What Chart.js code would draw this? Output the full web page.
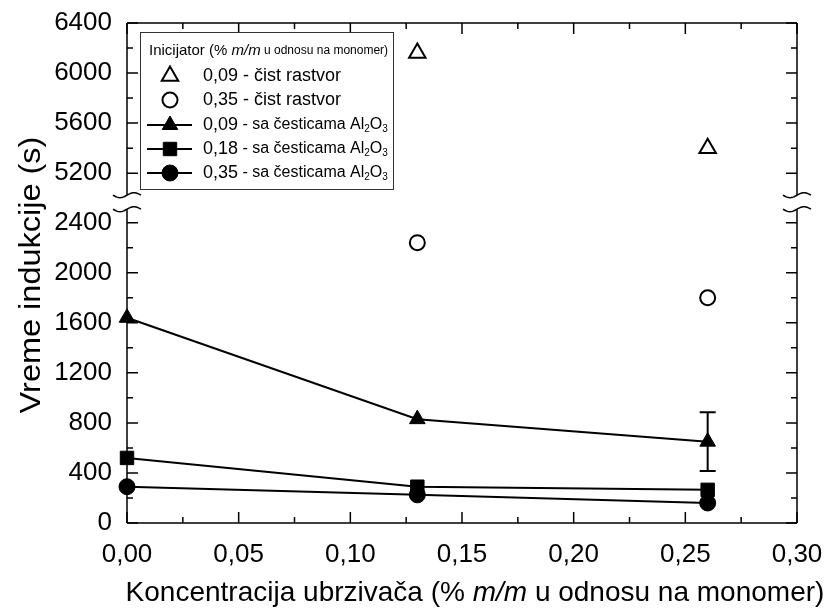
<!DOCTYPE html>
<html>
<head>
<meta charset="utf-8">
<script src="https://cdn.jsdelivr.net/npm/chart.js@4/dist/chart.umd.min.js"></script>
<style>
  html, body { margin: 0; padding: 0; background: #fff; }
  #wrap { width: 829px; height: 611px; }
</style>
</head>
<body>
<div id="wrap"><canvas id="chart" width="829" height="611"></canvas></div>
<script>
// data
const xValues = [0, 0.13, 0.26];
const triOpen = [null, 6160, 5400];      // 0,09 - čist rastvor
const circOpen = [null, 2240, 1800];     // 0,35 - čist rastvor
const triFilled = [1640, 830, 650];      // 0,09 - sa česticama Al2O3
const triFilledErr = [0, 0, 235];
const sqFilled = [520, 290, 265];        // 0,18 - sa česticama Al2O3
const circFilled = [290, 225, 160];      // 0,35 - sa česticama Al2O3

const xTicks = [0, 0.05, 0.1, 0.15, 0.2, 0.25, 0.3];
const yTicksTop = [5200, 5600, 6000, 6400];
const yTicksBottom = [0, 400, 800, 1200, 1600, 2000, 2400];

const FONT = "'Liberation Sans', Arial, sans-serif";

function pts(arr) {
  return xValues.map((x, i) => ({ x: x, y: arr[i] }));
}

// fixed axis sizes, no label overflow padding
function fitWidth(scale) {
  scale.width = 127;
  scale.paddingTop = 0;
  scale.paddingBottom = 0;
}

// frame with inward ticks on all four sides + axis break marks
const frameAndTicks = {
  id: 'frameAndTicks',
  beforeDatasetsDraw(chart) {
    const ctx = chart.ctx;
    const a = chart.chartArea;
    const xs = chart.scales.x, yt = chart.scales.yTop, yb = chart.scales.y;
    const breakTop = yt.bottom - 3, breakBot = yb.top - 1;
    ctx.save();
    ctx.strokeStyle = '#000';
    ctx.lineWidth = 1.5;
    ctx.beginPath();
    ctx.moveTo(a.left, a.top); ctx.lineTo(a.right, a.top);
    ctx.moveTo(a.left, a.bottom); ctx.lineTo(a.right, a.bottom);
    ctx.moveTo(a.left, a.top); ctx.lineTo(a.left, breakTop);
    ctx.moveTo(a.left, breakBot); ctx.lineTo(a.left, a.bottom);
    ctx.moveTo(a.right, a.top); ctx.lineTo(a.right, breakTop);
    ctx.moveTo(a.right, breakBot); ctx.lineTo(a.right, a.bottom);
    ctx.stroke();

    ctx.beginPath();
    for (let v = 0; v <= 0.3001; v += 0.025) {
      const major = xTicks.some(t => Math.abs(t - v) < 1e-6);
      const len = major ? 11 : 6;
      const px = xs.getPixelForValue(v);
      ctx.moveTo(px, a.bottom); ctx.lineTo(px, a.bottom - len);
      ctx.moveTo(px, a.top); ctx.lineTo(px, a.top + len);
    }
    [[yt, yTicksTop], [yb, yTicksBottom]].forEach(([sc, major]) => {
      for (let v = Math.ceil(sc.min / 200) * 200; v <= sc.max; v += 200) {
        if (sc === yt && v === sc.min) continue;
        const len = major.includes(v) ? 11 : 6;
        const py = sc.getPixelForValue(v);
        ctx.moveTo(a.left, py); ctx.lineTo(a.left + len, py);
        ctx.moveTo(a.right, py); ctx.lineTo(a.right - len, py);
      }
    });
    ctx.stroke();

    // break marks
    ctx.lineWidth = 1.5;
    [a.left, a.right].forEach(x0 => {
      [breakTop, breakBot].forEach(yc => {
        ctx.beginPath();
        for (let dx = -14; dx <= 14; dx += 1) {
          const y = yc - 2.5 * Math.sin(Math.PI * dx / 14);
          if (dx === -14) ctx.moveTo(x0 + dx, y); else ctx.lineTo(x0 + dx, y);
        }
        ctx.stroke();
      });
    });
    ctx.restore();
  },
  afterDatasetsDraw(chart) {
    // error bar on the 0,09 Al2O3 series
    const ctx = chart.ctx;
    const meta = chart.getDatasetMeta(2);
    const ys = chart.scales.y;
    ctx.save();
    ctx.strokeStyle = '#000';
    ctx.lineWidth = 2;
    triFilledErr.forEach((e, i) => {
      if (!e) return;
      const px = meta.data[i].x;
      const top = ys.getPixelForValue(triFilled[i] + e);
      const bot = ys.getPixelForValue(triFilled[i] - e);
      ctx.beginPath();
      ctx.moveTo(px, top); ctx.lineTo(px, bot);
      ctx.moveTo(px - 8, top); ctx.lineTo(px + 8, top);
      ctx.moveTo(px - 8, bot); ctx.lineTo(px + 8, bot);
      ctx.stroke();
    });
    ctx.restore();
  },
  afterDraw(chart) {
    const ctx = chart.ctx;
    ctx.save();
    ctx.fillStyle = '#000';
    ctx.textBaseline = 'middle';

    // y title (the original is drawn a bit stretched along its length)
    ctx.save();
    ctx.translate(32, 275);
    ctx.rotate(-Math.PI / 2);
    ctx.scale(1.12, 1);
    ctx.textAlign = 'center';
    ctx.font = '29px ' + FONT;
    ctx.fillText('Vreme indukcije (s)', 0, 0);
    ctx.restore();

    // x title with italic m/m
    const parts = [
      ['Koncentracija ubrzivača (% ', '28px ' + FONT],
      ['m/m', 'italic 28px ' + FONT],
      [' u odnosu na monomer)', '28px ' + FONT]
    ];
    drawParts(ctx, parts, 475, 593, true);

    // legend
    ctx.lineWidth = 1;
    ctx.strokeStyle = '#333';
    ctx.fillStyle = '#fff';
    ctx.fillRect(140.5, 32.5, 253, 157);
    ctx.strokeRect(140.5, 32.5, 253, 157);
    ctx.fillStyle = '#000';
    drawParts(ctx, [
      ['Inicijator (% ', '15px ' + FONT],
      ['m/m', 'italic 15px ' + FONT],
      [' u odnosu na monomer)', '12px ' + FONT]
    ], 149, 51, false);

    const rowsY = [76, 100, 125, 149, 173];
    chart.data.datasets.forEach((ds, i) => {
      const y = rowsY[i];
      ctx.save();
      if (ds.showLine !== false) {
        ctx.strokeStyle = '#000';
        ctx.lineWidth = 2;
        ctx.beginPath(); ctx.moveTo(147, y); ctx.lineTo(192, y); ctx.stroke();
      }
      ctx.fillStyle = ds.pointBackgroundColor;
      ctx.strokeStyle = ds.pointBorderColor;
      ctx.lineWidth = ds.pointBorderWidth;
      Chart.helpers.drawPoint(ctx, {
        pointStyle: ds.pointStyle, radius: ds.legendRadius,
        borderWidth: ds.pointBorderWidth, rotation: 0
      }, 170, y);
      ctx.restore();
      ctx.fillStyle = '#000';
      drawParts(ctx, ds.legendParts, 203, y, false);
    });
    ctx.restore();
  }
};

function drawParts(ctx, parts, x, y, centered) {
  let total = 0;
  parts.forEach(p => { ctx.font = p[1]; total += ctx.measureText(p[0]).width; });
  let cx = centered ? x - total / 2 : x;
  ctx.textAlign = 'left';
  parts.forEach(p => {
    ctx.font = p[1];
    ctx.fillText(p[0], cx, y + (p[2] || 0));
    cx += ctx.measureText(p[0]).width;
  });
}

function alParts(conc) {
  return [
    [conc, '18px ' + FONT],
    [' - sa česticama Al', '16px ' + FONT],
    ['2', '10px ' + FONT, 4],
    ['O', '16px ' + FONT],
    ['3', '10px ' + FONT, 4]
  ];
}

const yTickOpts = {
  padding: 15,
  autoSkip: false,
  color: '#000',
  font: { family: FONT, size: 26 },
  callback: v => String(v)
};

const chart = new Chart(document.getElementById('chart'), {
  type: 'line',
  data: {
    datasets: [
      {
        label: '0,09 - čist rastvor',
        data: pts(triOpen),
        yAxisID: 'yTop',
        showLine: false,
        pointStyle: 'triangle',
        pointRadius: 9.5,
        legendRadius: 9.5,
        pointBorderWidth: 2,
        pointBackgroundColor: '#fff',
        pointBorderColor: '#000',
        legendParts: [['0,09 - čist rastvor', '18px ' + FONT]]
      },
      {
        label: '0,35 - čist rastvor',
        data: pts(circOpen),
        yAxisID: 'y',
        showLine: false,
        pointStyle: 'circle',
        pointRadius: 7.5,
        legendRadius: 7.5,
        pointBorderWidth: 2,
        pointBackgroundColor: '#fff',
        pointBorderColor: '#000',
        legendParts: [['0,35 - čist rastvor', '18px ' + FONT]]
      },
      {
        label: '0,09 - sa česticama Al2O3',
        data: pts(triFilled),
        yAxisID: 'y',
        borderColor: '#000',
        borderWidth: 2,
        pointStyle: 'triangle',
        pointRadius: 9,
        legendRadius: 9,
        pointBorderWidth: 1,
        pointBackgroundColor: '#000',
        pointBorderColor: '#000',
        legendParts: alParts('0,09')
      },
      {
        label: '0,18 - sa česticama Al2O3',
        data: pts(sqFilled),
        yAxisID: 'y',
        borderColor: '#000',
        borderWidth: 2,
        pointStyle: 'rect',
        pointRadius: 9.5,
        legendRadius: 9.5,
        pointBorderWidth: 1,
        pointBackgroundColor: '#000',
        pointBorderColor: '#000',
        legendParts: alParts('0,18')
      },
      {
        label: '0,35 - sa česticama Al2O3',
        data: pts(circFilled),
        yAxisID: 'y',
        borderColor: '#000',
        borderWidth: 2,
        pointStyle: 'circle',
        pointRadius: 8,
        legendRadius: 8,
        pointBorderWidth: 1,
        pointBackgroundColor: '#000',
        pointBorderColor: '#000',
        legendParts: alParts('0,35')
      }
    ]
  },
  options: {
    responsive: false,
    animation: false,
    clip: false,
    layout: { padding: { top: 23, right: 32, left: 0, bottom: 0 } },
    elements: { line: { tension: 0 } },
    plugins: { legend: { display: false }, tooltip: { enabled: false } },
    scales: {
      x: {
        type: 'linear',
        min: 0,
        max: 0.3,
        afterBuildTicks: s => { s.ticks = xTicks.map(v => ({ value: v })); },
        afterFit: s => { s.height = 88; s.paddingLeft = 0; s.paddingRight = 0; },
        grid: { display: false, drawTicks: false },
        border: { display: false },
        ticks: {
          padding: 16,
          autoSkip: false,
          maxRotation: 0,
          color: '#000',
          font: { family: FONT, size: 26 },
          callback: v => v.toFixed(2).replace('.', ',')
        }
      },
      y: {
        type: 'linear',
        position: 'left',
        stack: 'v',
        stackWeight: 2500,
        min: 0,
        max: 2500,
        afterBuildTicks: s => { s.ticks = yTicksBottom.map(v => ({ value: v })); },
        afterFit: fitWidth,
        grid: { display: false, drawTicks: false },
        border: { display: false },
        ticks: yTickOpts
      },
      yGap: {
        type: 'linear',
        position: 'left',
        stack: 'v',
        stackWeight: 96,
        min: 0,
        max: 1,
        afterFit: fitWidth,
        grid: { display: false, drawTicks: false },
        border: { display: false },
        ticks: { display: false }
      },
      yTop: {
        type: 'linear',
        position: 'left',
        stack: 'v',
        stackWeight: 1400,
        min: 5000,
        max: 6400,
        afterBuildTicks: s => { s.ticks = yTicksTop.map(v => ({ value: v })); },
        afterFit: fitWidth,
        grid: { display: false, drawTicks: false },
        border: { display: false },
        ticks: yTickOpts
      }
    }
  },
  plugins: [frameAndTicks]
});
</script>
</body>
</html>
